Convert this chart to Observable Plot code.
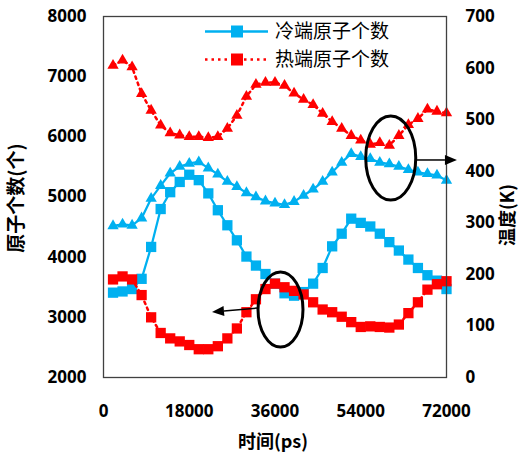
<!DOCTYPE html>
<html><head><meta charset="utf-8">
<script src="https://cdn.jsdelivr.net/npm/d3@7"></script>
<script src="https://cdn.jsdelivr.net/npm/@observablehq/plot@0.6"></script>
<style>
body{margin:0;background:#fff;}
#chart{width:519px;height:456px;}
</style></head><body><div id="chart"></div>
<script>
// time (ps)
const times = [2000,4000,6000,8000,10000,12000,14000,16000,18000,20000,22000,24000,26000,28000,30000,32000,34000,36000,
               38000,40000,42000,44000,46000,48000,50000,52000,54000,56000,58000,60000,62000,64000,66000,68000,70000,72000];
// atom counts (left axis)
const coldCount = [3410,3430,3470,3640,4170,4800,5080,5250,5370,5280,5060,4780,4530,4280,4010,3860,3720,3560,
                   3400,3360,3420,3560,3820,4180,4390,4640,4570,4510,4390,4250,4110,3960,3820,3700,3610,3470];
const hotCount  = [3630,3680,3630,3370,3000,2740,2650,2600,2540,2470,2470,2520,2650,2815,3085,3300,3470,3560,
                   3500,3440,3380,3250,3130,3085,3010,2920,2840,2850,2840,2830,2880,3070,3250,3460,3550,3600];
// temperatures (right axis, K)
const coldTemp  = [294,297,295,309,347,372,396,409,415,418,406,394,380,370,358,350,342,338,
                   335,341,353,365,380,398,417,434,428,424,417,414,409,403,398,395,392,382];
const hotTemp   = [605,615,602,550,518,489,474,470,467,467,465,467,483,508,545,568,572,572,
                   566,551,539,529,512,496,483,469,460,452,455,450,469,490,502,520,516,513];

const xTicks = [0,18000,36000,54000,72000];
const leftTicks = [2000,3000,4000,5000,6000,7000,8000];
const rightTicks = [0,100,200,300,400,500,600,700];
const legendLabels = ["冷端原子个数","热端原子个数"];
const xTitle = "时间(ps)", yLeftTitle = "原子个数(个)", yRightTitle = "温度(K)";

// annotations in data units (x: ps, y: left-axis units)
const ellipses = [{x:60400,y:5640,rx:5250,ry:700},{x:37260,y:3122,rx:4720,ry:625}];
const arrows = [{x1:65900,y1:5607,x2:74300,y2:5607},{x1:32540,y1:3147,x2:22880,y2:3080}];

const yMin = 2000, yMax = 8000, kMax = 700;
const toLeft = k => yMin + k*(yMax-yMin)/kMax;
const toK = v => (v-yMin)*kMax/(yMax-yMin);

const rows = times.map((t,i)=>({t, cold:coldCount[i], hot:hotCount[i], coldT:toLeft(coldTemp[i]), hotT:toLeft(hotTemp[i])}));

const blue = "#00B0F0", red = "#FF0000";
const numFont = "'Open Sans', sans-serif";

const plot = Plot.plot({
  width:519, height:456, marginLeft:103, marginRight:73, marginTop:16, marginBottom:79,
  style:{fontFamily:numFont, fontSize:"17px", fontWeight:"bold", color:"#000", background:"#fff", overflow:"visible"},
  x:{domain:[0,72000]},
  y:{domain:[yMin,yMax]},
  marks:[
    Plot.axisX({ticks:xTicks, tickSize:0, tickPadding:27, tickFormat:d=>String(d), label:null}),
    Plot.axisY({ticks:leftTicks, tickSize:0, tickPadding:17, tickFormat:d=>String(d), label:null}),
    Plot.axisY({anchor:"right", ticks:rightTicks.map(toLeft), tickSize:0, tickPadding:19, tickFormat:v=>String(Math.round(toK(v))), label:null}),
    Plot.line(rows, {x:"t", y:"coldT", stroke:blue, strokeWidth:2.25}),
    Plot.dot(rows, {x:"t", y:"coldT", symbol:"triangle", r:4.2, fill:blue}),
    Plot.line(rows, {x:"t", y:"hotT", stroke:red, strokeWidth:2.5, strokeDasharray:"2.5,4"}),
    Plot.dot(rows, {x:"t", y:"hotT", symbol:"triangle", r:4.2, fill:red}),
    Plot.line(rows, {x:"t", y:"cold", stroke:blue, strokeWidth:2.25}),
    Plot.dot(rows, {x:"t", y:"cold", symbol:"square", r:5.8, fill:blue}),
    Plot.line(rows, {x:"t", y:"hot", stroke:red, strokeWidth:2.5, strokeDasharray:"2.5,4"}),
    Plot.dot(rows, {x:"t", y:"hot", symbol:"square", r:5.8, fill:red}),
    Plot.frame({stroke:"#404040", strokeWidth:1.3})
  ]
});
document.getElementById("chart").appendChild(plot);

const svg = d3.select(plot);
const sx = plot.scale("x"), sy = plot.scale("y");
const X = v => sx.apply(v), Y = v => sy.apply(v);
const cjk = "'Noto Sans CJK SC', sans-serif";

// axis titles
svg.append("text").attr("x", 273).attr("y", 443).attr("text-anchor","middle").attr("dominant-baseline","middle")
  .style("font-family", cjk).style("font-size","18px").style("font-weight","bold").text(xTitle);
svg.append("text").attr("transform","translate(18,198) rotate(-90)").attr("text-anchor","middle").attr("dominant-baseline","middle")
  .style("font-family", cjk).style("font-size","19px").style("font-weight","bold").text(yLeftTitle);
svg.append("text").attr("transform","translate(509,215) rotate(-90)").attr("text-anchor","middle").attr("dominant-baseline","middle")
  .style("font-family", cjk).style("font-size","18px").style("font-weight","bold").text(yRightTitle);

// legend
const lg = svg.append("g");
const legendY = [31.5, 59.5];
[[blue,null],[red,"2.5,4"]].forEach(([c,dash],i)=>{
  const y = legendY[i];
  const ln = lg.append("line").attr("x1",205).attr("x2",268).attr("y1",y).attr("y2",y).attr("stroke",c).attr("stroke-width",2.5);
  if (dash) ln.attr("stroke-dasharray",dash);
  lg.append("rect").attr("x",231).attr("y",y-6).attr("width",12).attr("height",12).attr("fill",c);
  lg.append("text").attr("x",275).attr("y",y+1).attr("text-anchor","start").attr("dominant-baseline","middle")
    .style("font-family", cjk).style("font-size","19px").style("font-weight","normal").text(legendLabels[i]);
});

// annotations
const ag = svg.append("g");
ellipses.forEach(e=>{
  ag.append("ellipse").attr("cx",X(e.x)).attr("cy",Y(e.y))
    .attr("rx",X(e.x+e.rx)-X(e.x)).attr("ry",Y(e.y)-Y(e.y+e.ry))
    .attr("fill","none").attr("stroke","#000").attr("stroke-width",3);
});
arrows.forEach(a=>{
  const x1=X(a.x1), y1=Y(a.y1), x2=X(a.x2), y2=Y(a.y2);
  const ang = Math.atan2(y2-y1, x2-x1), L=12, W=5;
  const bx = x2 - L*Math.cos(ang), by = y2 - L*Math.sin(ang);
  ag.append("line").attr("x1",x1).attr("y1",y1).attr("x2",bx).attr("y2",by).attr("stroke","#000").attr("stroke-width",1.5);
  const px = -Math.sin(ang)*W, py = Math.cos(ang)*W;
  ag.append("path").attr("d",`M${x2},${y2}L${bx+px},${by+py}L${bx-px},${by-py}Z`).attr("fill","#000");
});
</script>
</body></html>
